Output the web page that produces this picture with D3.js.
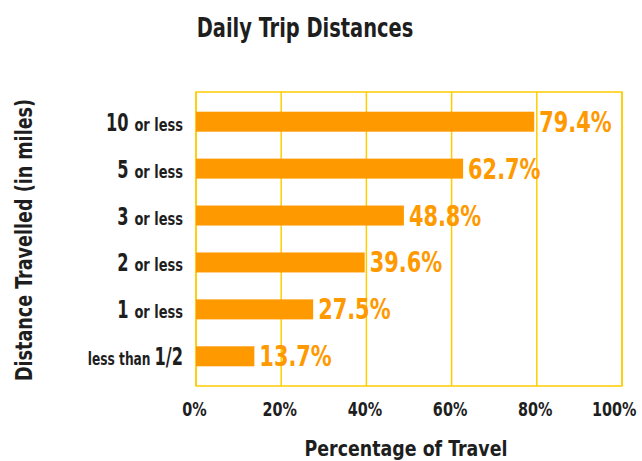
<!DOCTYPE html>
<html><head><meta charset="utf-8">
<script src="https://cdn.jsdelivr.net/npm/d3@7"></script>
<style>
body{margin:0;background:#fff;}
text{font-family:"DejaVu Sans Condensed","DejaVu Sans",sans-serif;font-weight:bold;}
</style></head>
<body><svg id="c" width="642" height="461"></svg>
<script>
const bigLabels = ["10", "5", "3", "2", "1", "1/2"];
const smallLabels = ["or less", "or less", "or less", "or less", "or less", "less than"];
const values = [79.4, 62.7, 48.8, 39.6, 27.5, 13.7];
const tickValues = [0, 20, 40, 60, 80, 100];
const categories = bigLabels.map((b, i) => i);

const svg = d3.select("#c");
const W = 642;
const L = 196, R = 622, T = 92, B = 386;
const x = d3.scaleLinear().domain([0, 100]).range([L, R]);
const y = d3.scaleBand().domain(categories).range([T, B]).paddingInner(0.574).paddingOuter(0.42);
const orange = "#FF9900", yellow = "#FFCC00", ink = "#1e1e1e";

// condensed text helper
function ctext(parent, px, py, str, size, anchor, sx, fill, rot) {
  const g = parent.append("g").attr("transform", `translate(${px},${py})` + (rot ? ` rotate(${rot})` : "") + ` scale(${sx},1)`);
  const t = g.append("text").attr("x", 0).attr("y", 0).attr("text-anchor", anchor)
    .attr("font-size", size).attr("fill", fill).text(str);
  return { g: g, w: t.node().getComputedTextLength() * sx };
}

// gridlines
svg.append("g").selectAll("line").data(tickValues).join("line")
  .attr("x1", d => x(d)).attr("x2", d => x(d)).attr("y1", T).attr("y2", B)
  .attr("stroke", yellow).attr("stroke-width", 1.5);
svg.append("rect").attr("x", L).attr("y", T).attr("width", R - L).attr("height", B - T)
  .attr("fill", "none").attr("stroke", yellow).attr("stroke-width", 1.5);

// bars
svg.append("g").selectAll("rect").data(categories).join("rect")
  .attr("x", x(0)).attr("y", d => y(d)).attr("width", d => x(values[d]) - x(0))
  .attr("height", y.bandwidth()).attr("fill", orange);

// value labels
const vl = svg.append("g");
categories.forEach(d => {
  ctext(vl, x(values[d]) + 5, y(d) + y.bandwidth(), values[d].toFixed(1) + "%", 29, "start", 0.8, orange);
});

// y labels
const yl = svg.append("g");
categories.forEach(d => {
  const base = y(d) + y.bandwidth() - 1;
  if (d === 5) {
    const r = ctext(yl, 183, base, bigLabels[d], 25, "end", 0.72, ink);
    ctext(yl, 183 - r.w - 4, base, smallLabels[d], 17, "end", 0.8, ink);
  } else {
    const r = ctext(yl, 183, base, smallLabels[d], 17, "end", 0.85, ink);
    ctext(yl, 183 - r.w - 6, base, bigLabels[d], 25, "end", 0.72, ink);
  }
});

// x axis ticks
const xAxis = d3.axisBottom(x).tickValues(tickValues).tickFormat(d => d + "%").tickSize(0).tickPadding(0);
const ax = svg.append("g").attr("transform", `translate(0,${B})`).call(xAxis);
ax.select(".domain").remove();
ax.selectAll(".tick text").each(function(d) {
  const tick = d3.select(this.parentNode);
  d3.select(this).remove();
  const r = ctext(tick, -2, 30, d + "%", 20, "middle", 0.8, ink);
  const right = x(d) - 2 + r.w / 2;
  if (right > W - 6) r.g.attr("transform", `translate(${-2 - (right - (W - 6))},30) scale(0.8,1)`);
});

// titles
ctext(svg, 305, 37, "Daily Trip Distances", 27, "middle", 0.8, ink);
ctext(svg, 406, 456, "Percentage of Travel", 22, "middle", 0.88, ink);
ctext(svg, 32, 240, "Distance Travelled (in miles)", 23, "middle", 0.85, ink, -90);
</script></body></html>
